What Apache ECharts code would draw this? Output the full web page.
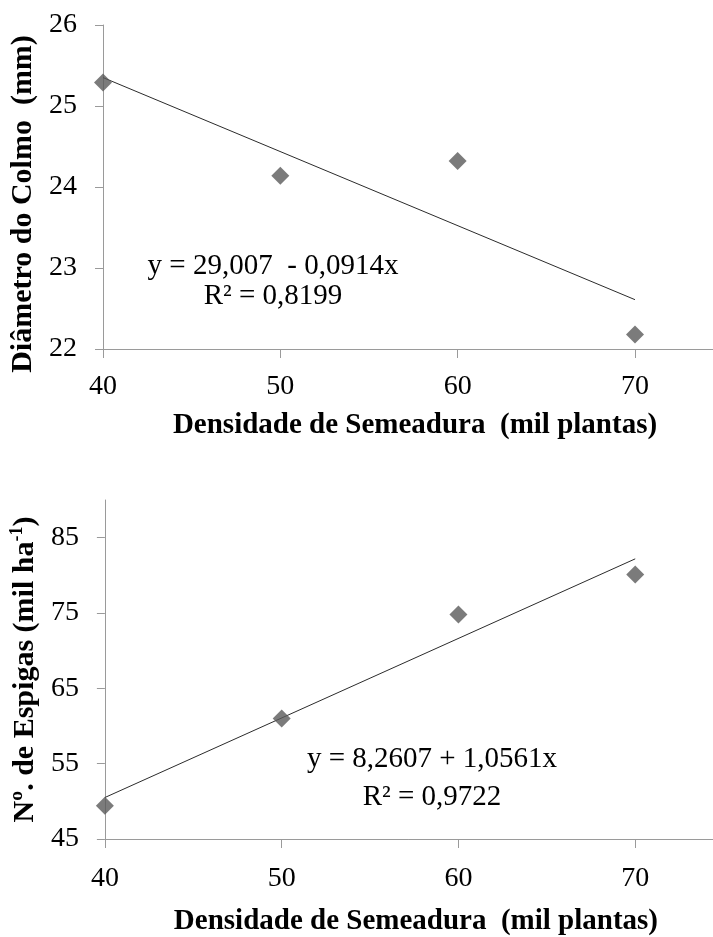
<!DOCTYPE html>
<html>
<head>
<meta charset="utf-8">
<script src="https://cdn.jsdelivr.net/npm/echarts@6/dist/echarts.min.js"></script>
<style>
html,body{margin:0;padding:0;background:#fff;}
#chart{width:713px;height:937px;}
</style>
</head>
<body>
<div id="chart"></div>
<script>
// ---- data ----
const xTicks = [40, 50, 60, 70];
const diamX = [40, 50, 60, 70];
const diamY = [25.29, 24.14, 24.32, 22.18];
const diamTrendX = [40, 70];
const diamTrendY = [25.351, 22.609];
const diamYTicks = [22, 23, 24, 25, 26];

const espX = [40, 50, 60, 70];
const espY = [49.4, 61.0, 74.8, 80.1];
const espTrendX = [40, 70];
const espTrendY = [50.505, 82.188];
const espYTicks = [45, 55, 65, 75, 85];

const eqTop = ['y = 29,007  - 0,0914x', 'R² = 0,8199'];
const eqBottom = ['y = 8,2607 + 1,0561x', 'R² = 0,9722'];

const FONT = '"Liberation Serif", "Times New Roman", serif';
const AXIS_COLOR = '#9a9a9a';

function pairs(xs, ys) { return xs.map((x, i) => [x, ys[i]]); }

function xAxisCfg(gridIndex, nameGap, labelMargin) {
  return {
    type: 'value', gridIndex: gridIndex, min: 40, max: 74.4,
    name: 'Densidade de Semeadura  (mil plantas)',
    nameLocation: 'middle', nameGap: nameGap,
    nameTextStyle: { fontFamily: FONT, fontSize: 29, fontWeight: 'bold', color: '#000', padding: [0, 0, 0, 14] },
    axisLine: { show: true, onZero: false, lineStyle: { color: AXIS_COLOR, width: 1 } },
    axisTick: { show: true, length: 9, customValues: xTicks, lineStyle: { color: AXIS_COLOR } },
    axisLabel: { customValues: xTicks, margin: labelMargin, fontFamily: FONT, fontSize: 28, color: '#000' },
    splitLine: { show: false }
  };
}

const option = {
  animation: false,
  backgroundColor: '#fff',
  grid: [
    { left: 103, top: 25, width: 610, height: 324 },
    { left: 103, top: 500, width: 610, height: 341 }
  ],
  xAxis: [
    xAxisCfg(0, 62, 24),
    xAxisCfg(1, 68, 26)
  ],
  yAxis: [
    {
      type: 'value', gridIndex: 0, min: 22, max: 26, interval: 1,
      name: 'Diâmetro do Colmo  (mm)',
      nameLocation: 'middle', nameGap: 62, nameRotate: 90,
      nameTextStyle: { fontFamily: FONT, fontSize: 30, fontWeight: 'bold', color: '#000', padding: [0, 34, 0, 0] },
      axisLine: { show: true, onZero: false, lineStyle: { color: AXIS_COLOR, width: 1 } },
      axisTick: { show: true, length: 8, customValues: diamYTicks, lineStyle: { color: AXIS_COLOR } },
      axisLabel: { customValues: diamYTicks, margin: 26, fontFamily: FONT, fontSize: 28, color: '#000' },
      splitLine: { show: false }
    },
    {
      type: 'value', gridIndex: 1, min: 45, max: 90,
      name: '{t|Nº. de Espigas (mil ha}{s|-1}{t|)}',
      nameLocation: 'middle', nameGap: 62, nameRotate: 90,
      nameTextStyle: {
        color: '#000',
        rich: {
          t: { fontFamily: FONT, fontSize: 30, fontWeight: 'bold', color: '#000', lineHeight: 32, verticalAlign: 'bottom' },
          s: { fontFamily: FONT, fontSize: 18, fontWeight: 'bold', color: '#000', lineHeight: 32, verticalAlign: 'top', padding: [0, 0, 12, 0] }
        }
      },
      axisLine: { show: true, onZero: false, lineStyle: { color: AXIS_COLOR, width: 1 } },
      axisTick: { show: true, length: 8, customValues: espYTicks, lineStyle: { color: AXIS_COLOR } },
      axisLabel: { customValues: espYTicks, margin: 26, fontFamily: FONT, fontSize: 28, color: '#000' },
      splitLine: { show: false }
    }
  ],
  series: [
    {
      type: 'line', xAxisIndex: 0, yAxisIndex: 0, data: pairs(diamTrendX, diamTrendY),
      symbol: 'none', lineStyle: { color: '#2b2b2b', width: 1 }, silent: true, z: 2
    },
    {
      type: 'scatter', xAxisIndex: 0, yAxisIndex: 0, data: pairs(diamX, diamY),
      symbol: 'diamond', symbolSize: 18, itemStyle: { color: '#5a5a5a' }, z: 3
    },
    {
      type: 'line', xAxisIndex: 1, yAxisIndex: 1, data: pairs(espTrendX, espTrendY),
      symbol: 'none', lineStyle: { color: '#2b2b2b', width: 1 }, silent: true, z: 2
    },
    {
      type: 'scatter', xAxisIndex: 1, yAxisIndex: 1, data: pairs(espX, espY),
      symbol: 'diamond', symbolSize: 18, itemStyle: { color: '#5a5a5a' }, z: 3
    }
  ],
  graphic: [
    { type: 'text', x: 273, y: 266, style: { text: eqTop[0], font: '29px ' + FONT, fill: '#000', align: 'center', verticalAlign: 'middle', textAlign: 'center', textVerticalAlign: 'middle' } },
    { type: 'text', x: 273, y: 296, style: { text: eqTop[1], font: '29px ' + FONT, fill: '#000', align: 'center', verticalAlign: 'middle', textAlign: 'center', textVerticalAlign: 'middle' } },
    { type: 'text', x: 432, y: 759, style: { text: eqBottom[0], font: '29px ' + FONT, fill: '#000', align: 'center', verticalAlign: 'middle', textAlign: 'center', textVerticalAlign: 'middle' } },
    { type: 'text', x: 432, y: 797, style: { text: eqBottom[1], font: '29px ' + FONT, fill: '#000', align: 'center', verticalAlign: 'middle', textAlign: 'center', textVerticalAlign: 'middle' } }
  ]
};

const chart = echarts.init(document.getElementById('chart'), null, { renderer: 'canvas' });
chart.setOption(option);
</script>
</body>
</html>
